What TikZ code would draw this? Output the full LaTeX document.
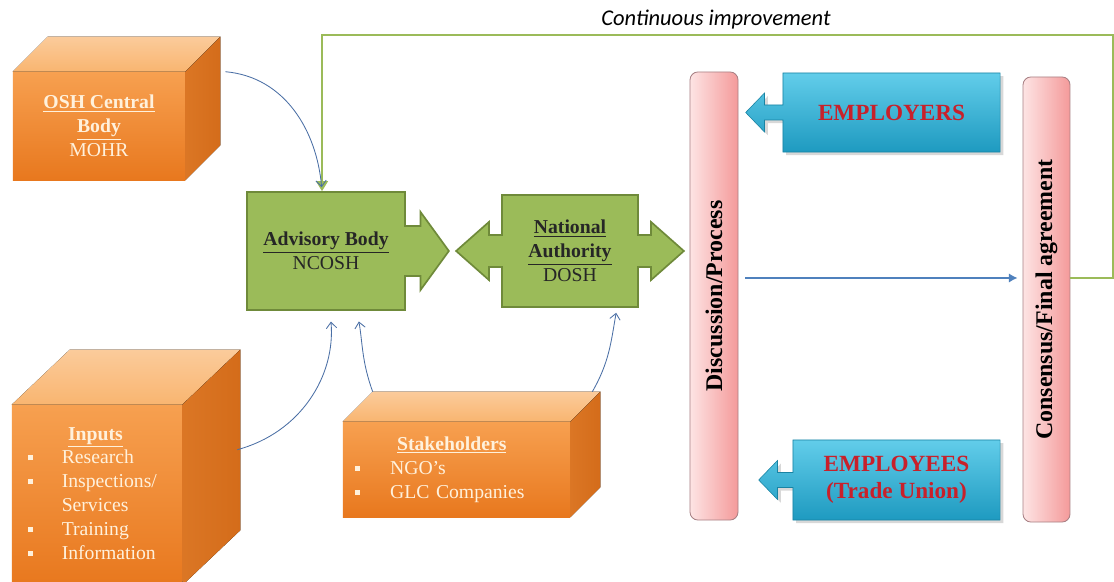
\documentclass[tikz,border=0pt]{standalone}
\usepackage{fontspec}
\setmainfont{Liberation Serif}
\newfontfamily\ciFont{Carlito}
\usetikzlibrary{arrows.meta,positioning,shapes.arrows,shadows}

\definecolor{orangeFront}{HTML}{F7A050}
\definecolor{orangeDark}{HTML}{E8781E}
\definecolor{orangeTop}{HTML}{F9B570}
\definecolor{orangeSide}{HTML}{D46C1A}
\definecolor{creamText}{HTML}{FFF1DC}
\definecolor{oliveFill}{HTML}{9BBB59}
\definecolor{oliveLine}{HTML}{6F8A3A}
\definecolor{cyanTop}{HTML}{62CDEA}
\definecolor{cyanBot}{HTML}{1E9AC0}
\definecolor{redText}{HTML}{C8202A}
\definecolor{pinkLight}{HTML}{FDE4E4}
\definecolor{pinkDark}{HTML}{F49A9A}
\definecolor{pinkLine}{HTML}{A88084}
\definecolor{linkBlue}{HTML}{4A6FA5}
\definecolor{flowBlue}{HTML}{4F81BD}

\newcommand{\bul}{\rule[2.5pt]{3.5pt}{3.5pt}}

\begin{document}
\begin{tikzpicture}[x=0.025cm,y=0.025cm,font=\fontsize{14}{17}\selectfont]
  \tikzstyle{cube}=[rectangle, inner sep=0pt, top color=orangeFront, bottom color=orangeDark, text=creamText, align=center]
  \tikzstyle{greenbox}=[shape=arrow box, fill=oliveFill, draw=oliveLine, line width=1.2pt, inner sep=2pt, text=black!85, align=center]
  \tikzstyle{bluebox}=[shape=arrow box, top color=cyanTop, bottom color=cyanBot, draw=cyanBot!85!black, line width=0.4pt,
                       text=redText, align=center, font=\fontsize{16.5}{19.5}\selectfont\bfseries, drop shadow={opacity=0.3},
                       arrow box shaft width=0.375cm, arrow box head extend=0.3cm, arrow box tip angle=92]
  \tikzstyle{bar}=[rectangle, rounded corners=0.2cm, left color=pinkLight, right color=pinkDark, draw=pinkLine,
                   line width=0.6pt, font=\fontsize{17}{19}\selectfont\bfseries]
  \tikzstyle{link}=[linkBlue, line width=0.6pt, -{Straight Barb[length=1.5mm,width=2.6mm]}]

  \useasboundingbox (0,0) rectangle (1114,-582);
  \fill[white] (0,0) rectangle (1114,-582);

  % orange blocks (front faces)
  \node[cube, minimum width=4.3cm, minimum height=2.7cm] (osh) at (99,-126)
       {\underline{\textbf{OSH Central}}\\\underline{\textbf{Body}}\\MOHR};
  \node[cube, minimum width=4.25cm, minimum height=4.5cm, text width=4.25cm, align=left] (inputs) at (97,-495)
       {\hspace*{11.4pt}\begin{tabular}{@{}p{24pt}@{}l@{}}
          \multicolumn{2}{@{}l@{}}{\hspace*{28.5pt}\underline{\textbf{Inputs}}}\\
          \bul & Research\\
          \bul & Inspections/\\
               & Services\\
          \bul & Training\\
          \bul & Information
        \end{tabular}};
  \node[cube, minimum width=5.675cm, minimum height=2.375cm, text width=5.675cm, align=left] (stake) at (456.5,-469.5)
       {\hspace*{8.5pt}\begin{tabular}{@{}p{25pt}@{}l@{}}
          \multicolumn{2}{@{}l@{}}{\hspace*{30pt}\underline{\textbf{Stakeholders}}}\\
          \bul & NGO's\\
          \bul & GLC Companies
        \end{tabular}};

  % top and side faces of the blocks
  \foreach \c/\dx/\dy in {osh/35/35, inputs/58/55, stake/30/30} {
    \fill[top color=orangeTop!70!white, bottom color=orangeTop] (\c.north west) -- ++(\dx,\dy)
         -- ([shift={(\dx,\dy)}]\c.north east) -- (\c.north east) -- cycle;
    \fill[left color=orangeSide!80!orangeFront, right color=orangeSide] (\c.north east) -- ++(\dx,\dy)
         -- ([shift={(\dx,\dy)}]\c.south east) -- (\c.south east) -- cycle;
    \coordinate (\c-back-left) at ([shift={(\dx,\dy)}]\c.north west);
    \coordinate (\c-back-right) at ([shift={(\dx,\dy)}]\c.north east);
  }

  % green arrow boxes
  \node[greenbox, minimum width=3.95cm, minimum height=2.95cm, arrow box arrows={east:1.075cm},
        arrow box shaft width=1.25cm, arrow box head extend=0.35cm, arrow box tip angle=108] (adv) at (326,-251)
       {\underline{\textbf{Advisory Body}}\\NCOSH};
  \node[greenbox, minimum width=3.4cm, minimum height=2.8cm, arrow box arrows={west:1.125cm,east:1.125cm},
        arrow box shaft width=0.8cm, arrow box head extend=0.325cm, arrow box tip angle=83] (nat) at (570,-251)
       {\underline{\textbf{National}}\\\underline{\textbf{Authority}}\\DOSH};

  % pink bars
  \node[bar, minimum width=1.2cm, minimum height=11.2cm] (disc) at (714,-296)
       {\rotatebox{90}{Discussion/Process}};
  \node[bar, minimum width=1.175cm, minimum height=11.125cm] (cons) at (1046.5,-299.5)
       {\rotatebox{90}{Consensus/Final agreement}};

  % blue boxes
  \node[bluebox, minimum width=5.425cm, minimum height=1.975cm, arrow box arrows={west:0.925cm}] (emp) at (891.5,-112.5)
       {EMPLOYERS};
  \node[bluebox, minimum width=5.175cm, minimum height=2cm, arrow box arrows={west:0.85cm}] (empl) at (896.5,-480)
       {EMPLOYEES\\(Trade Union)};

  % connectors
  \coordinate (flow-y) at ([yshift=0.45cm]disc.east);
  \draw[flowBlue, line width=1.5pt, -{Latex[length=2.2mm,width=2.4mm]}, shorten <=0.175cm, shorten >=0.125cm]
       (flow-y) -- (flow-y -| cons.west);

  \coordinate (ci-corner) at (1113,-35);
  \draw[oliveFill, line width=0.8pt, -{Triangle[length=2.5mm,width=3mm]}]
       (flow-y -| cons.east) -| (ci-corner) -| ([xshift=-0.1cm]adv.north);
  \node[font=\ciFont\itshape\fontsize{16}{18}\selectfont] (ci-label) at (716,-20) {Continuous improvement};

  \draw[link, shorten >=0.1cm] ([xshift=1cm]osh.north east) to[out=-5,in=95] ([xshift=-0.1cm]adv.north);
  \draw[link, shorten >=0.27cm] ([shift={(55,-45)}]inputs.north east) to[out=15,in=-85] ([xshift=0.1cm]adv.south);
  \draw[link, shorten >=0.27cm] (stake-back-left) to[out=110,in=-80] ([xshift=0.775cm]adv.south);
  \draw[link, shorten >=0.125cm] ([xshift=-0.2cm]stake-back-right) to[out=60,in=-100] ([xshift=1.175cm]nat.south);
\end{tikzpicture}
\end{document}
